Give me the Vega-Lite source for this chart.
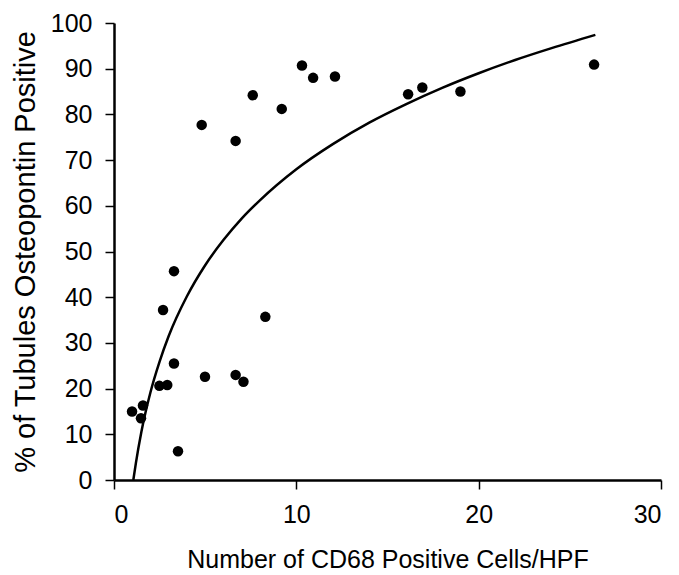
{
  "$schema": "https://vega.github.io/schema/vega-lite/v6.json",
  "width": 547,
  "height": 457,
  "autosize": {"type": "none"},
  "padding": {"left": 114, "top": 23, "right": 18, "bottom": 95},
  "background": "white",
  "config": {
    "view": {"stroke": null},
    "axis": {
      "grid": false,
      "domainColor": "black",
      "domainWidth": 2.5,
      "tickColor": "black",
      "tickWidth": 1.5,
      "tickSize": 9,
      "labelFont": "Liberation Sans",
      "labelFontSize": 25,
      "labelColor": "black",
      "labelPadding": 13,
      "titleFont": "Liberation Sans",
      "titleFontSize": 25,
      "titleFontWeight": "normal",
      "titleColor": "black"
    }
  },
  "datasets": {
    "points": [
      {"cells": 4.81, "pct": 77.7},
      {"cells": 6.67, "pct": 74.2},
      {"cells": 7.61, "pct": 84.2},
      {"cells": 9.2, "pct": 81.2},
      {"cells": 10.31, "pct": 90.7},
      {"cells": 10.92, "pct": 88.0},
      {"cells": 12.12, "pct": 88.3},
      {"cells": 16.13, "pct": 84.4},
      {"cells": 16.91, "pct": 85.9},
      {"cells": 19.0, "pct": 85.0},
      {"cells": 26.33, "pct": 90.9},
      {"cells": 3.29, "pct": 45.7},
      {"cells": 2.69, "pct": 37.2},
      {"cells": 8.3, "pct": 35.7},
      {"cells": 3.29, "pct": 25.5},
      {"cells": 4.99, "pct": 22.6},
      {"cells": 6.67, "pct": 23.0},
      {"cells": 7.1, "pct": 21.5},
      {"cells": 2.49, "pct": 20.6},
      {"cells": 2.92, "pct": 20.8},
      {"cells": 0.99, "pct": 15.0},
      {"cells": 1.59, "pct": 16.3},
      {"cells": 1.48, "pct": 13.5},
      {"cells": 3.51, "pct": 6.3}
    ],
    "curve": [
      {"cells": 1.06, "pct": 0},
      {"cells": 1.2, "pct": 3.7},
      {"cells": 1.5, "pct": 10.5},
      {"cells": 2, "pct": 19.2},
      {"cells": 2.5, "pct": 25.9},
      {"cells": 3, "pct": 31.5},
      {"cells": 4, "pct": 40.2},
      {"cells": 5, "pct": 47.0},
      {"cells": 6, "pct": 52.5},
      {"cells": 7, "pct": 57.2},
      {"cells": 8, "pct": 61.2},
      {"cells": 10, "pct": 68.0},
      {"cells": 12, "pct": 73.5},
      {"cells": 14, "pct": 78.2},
      {"cells": 16, "pct": 82.2},
      {"cells": 18, "pct": 85.8},
      {"cells": 20, "pct": 89.0},
      {"cells": 22, "pct": 91.9},
      {"cells": 24, "pct": 94.5},
      {"cells": 26.4, "pct": 97.4}
    ]
  },
  "layer": [
    {
      "data": {"name": "curve"},
      "mark": {"type": "line", "color": "black", "strokeWidth": 2.5, "interpolate": "monotone"},
      "encoding": {
        "x": {"field": "cells", "type": "quantitative", "scale": {"domain": [0, 30], "nice": false},
              "axis": {"values": [0, 10, 20, 30], "title": "Number of CD68 Positive Cells/HPF", "titlePadding": 20}},
        "y": {"field": "pct", "type": "quantitative", "scale": {"domain": [0, 100], "nice": false},
              "axis": {"values": [0, 10, 20, 30, 40, 50, 60, 70, 80, 90, 100], "title": "% of Tubules Osteopontin Positive", "titlePadding": 10, "titleFontSize": 29}}
      }
    },
    {
      "data": {"name": "points"},
      "mark": {"type": "circle", "color": "black", "size": 110, "opacity": 1},
      "encoding": {
        "x": {"field": "cells", "type": "quantitative"},
        "y": {"field": "pct", "type": "quantitative"}
      }
    }
  ]
}
